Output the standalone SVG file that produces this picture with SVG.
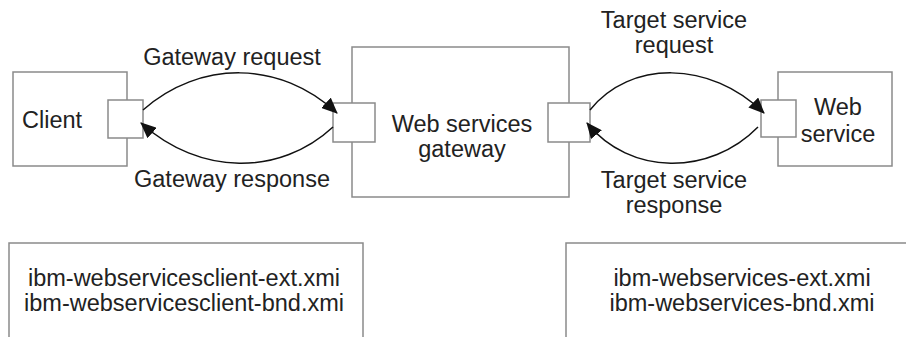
<svg xmlns="http://www.w3.org/2000/svg" width="906" height="337" viewBox="0 0 906 337">
<style>
.box{fill:#fff;stroke:#8a8a8a;stroke-width:1.5}
.conn{fill:none;stroke:#111;stroke-width:1.5}
text{font-family:"Liberation Sans",Arial,Helvetica,sans-serif;font-size:23.5px;fill:#222}
.m{text-anchor:middle}
</style>
<defs>
<marker id="ah" markerUnits="userSpaceOnUse" markerWidth="16" markerHeight="14" viewBox="0 0 16 14" refX="15" refY="7" orient="auto">
<path d="M0,0 L16,7 L0,14 Z" fill="#111"/>
</marker>
</defs>
<g id="client">
<rect class="box" x="13" y="72" width="114" height="94"/>
<rect class="box" x="108" y="100" width="35" height="38"/>
<text x="22" y="128">Client</text>
</g>
<g id="gateway">
<rect class="box" x="352" y="47" width="217" height="150"/>
<rect class="box" x="333" y="103" width="42" height="39"/>
<rect class="box" x="548" y="103" width="42" height="39"/>
<text class="m" x="462" y="132">Web services</text>
<text class="m" x="462" y="157">gateway</text>
</g>
<g id="webservice">
<rect class="box" x="778" y="72" width="114" height="94"/>
<rect class="box" x="761" y="100" width="35" height="37"/>
<text class="m" x="838" y="115">Web</text>
<text class="m" x="838" y="142">service</text>
</g>
<g id="clientfiles">
<rect class="box" x="9" y="243" width="354" height="120"/>
<text class="m" x="184" y="286">ibm-webservicesclient-ext.xmi</text>
<text class="m" x="184" y="311">ibm-webservicesclient-bnd.xmi</text>
</g>
<g id="servicefiles">
<rect class="box" x="566" y="243" width="360" height="120"/>
<text class="m" x="742" y="286">ibm-webservices-ext.xmi</text>
<text class="m" x="742" y="311">ibm-webservices-bnd.xmi</text>
</g>
<g id="connectors">
<path class="conn" d="M143,110 C200,60 280,60 337,113" marker-end="url(#ah)"/>
<path class="conn" d="M333,127 C280,176 200,176 141,123" marker-end="url(#ah)"/>
<path class="conn" d="M590,110 C630,60 710,60 764,113" marker-end="url(#ah)"/>
<path class="conn" d="M758,127 C710,176 630,176 587,123" marker-end="url(#ah)"/>
<text class="m" x="232" y="65">Gateway request</text>
<text class="m" x="232" y="187">Gateway response</text>
<text class="m" x="674" y="28">Target service</text>
<text class="m" x="674" y="53">request</text>
<text class="m" x="674" y="188">Target service</text>
<text class="m" x="674" y="213">response</text>
</g>
</svg>
